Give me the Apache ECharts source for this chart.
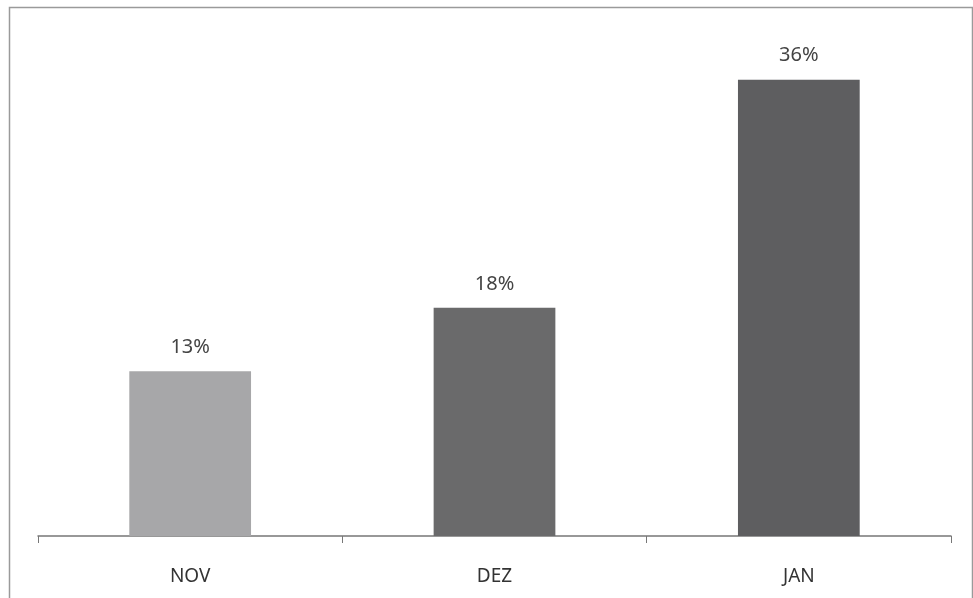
<!DOCTYPE html>
<html><head><meta charset="utf-8">
<script src="https://cdn.jsdelivr.net/npm/echarts@6/dist/echarts.min.js"></script>
<style>html,body{margin:0;padding:0;background:#fff}#c{width:973px;height:598px}</style>
</head><body><div id="c"></div>
<script>
const categories = ['NOV', 'DEZ', 'JAN'];
const values = [13, 18, 36];
const barColors = ['#a7a7a9', '#6a6a6b', '#5e5e60'];

const chart = echarts.init(document.getElementById('c'));
chart.setOption({
  animation: false,
  backgroundColor: '#fff',
  graphic: [{
    type: 'rect', left: 7, top: 5,
    shape: { width: 963, height: 600 },
    style: { fill: 'none', stroke: '#9a9a9a', lineWidth: 1.5 }
  }],
  grid: { left: 38, right: 22, top: 29, bottom: 62 },
  xAxis: {
    type: 'category', data: categories,
    axisLine: { lineStyle: { color: '#777', width: 1.5 } },
    axisTick: { show: true, length: 7, lineStyle: { color: '#777' } },
    axisLabel: { color: '#333', fontSize: 19, margin: 31, fontFamily: 'Noto Sans' }
  },
  yAxis: { type: 'value', min: 0, max: 40, show: false, splitLine: { show: false } },
  series: [{
    type: 'bar', barWidth: '40%',
    data: values.map((v, i) => ({ value: v, itemStyle: { color: barColors[i] } })),
    label: { show: true, position: 'top', distance: 14, formatter: '{c}%', color: '#444', fontSize: 20, fontFamily: 'Noto Sans' }
  }]
});
</script></body></html>
